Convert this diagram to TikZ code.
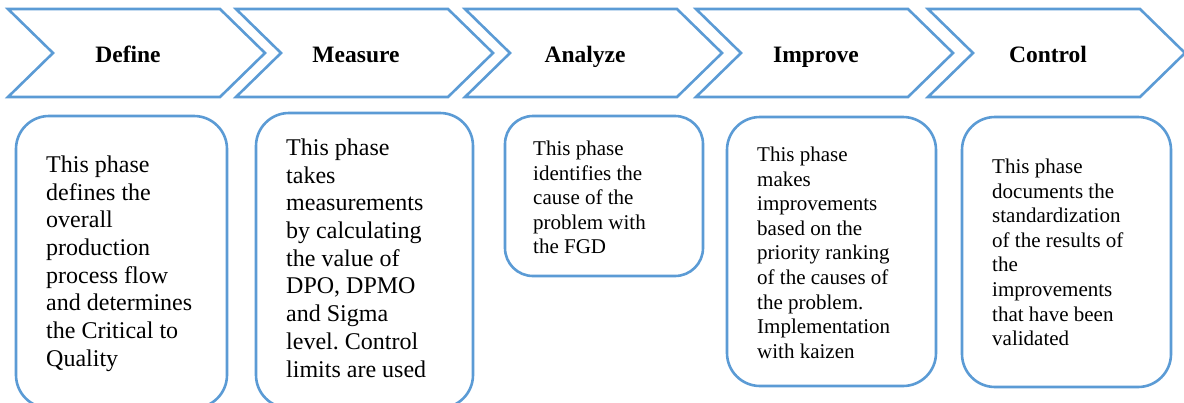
\documentclass[tikz,border=0pt]{standalone}
\usepackage{fontspec}
\setmainfont{Liberation Serif}
\definecolor{lineblue}{RGB}{91,155,213}
\begin{document}
\frenchspacing
\begin{tikzpicture}[x=1pt,y=-1pt,
  chev/.style={draw=lineblue,line width=2.6pt,fill=white,line join=miter},
  rbox/.style={draw=lineblue,line width=2.6pt,rounded corners=33pt},
  phase/.style={font=\bfseries\fontsize{23.5}{27}\selectfont,anchor=base,inner sep=0pt},
  bigtxt/.style={font=\fontsize{24}{27.7}\selectfont\frenchspacing,align=left,anchor=north west,inner sep=0pt},
  smalltxt/.style={font=\fontsize{21}{24.6}\selectfont\frenchspacing,align=left,anchor=north west,inner sep=0pt}]
\useasboundingbox (0,0) rectangle (1184,402);
\clip (0,0) rectangle (1184,402);
\fill[white] (0,0) rectangle (1184,402);
% chevrons
\foreach \x/\nm/\lab in {8/cD/Define,236/cM/Measure,465/cA/Analyze,696/cI/Improve,928/cC/Control}{
  \draw[chev] (\x,9) -- (\x+212,9) -- (\x+257,53) -- (\x+212,97) -- (\x,97) -- (\x+45,53) -- cycle;
  \node[phase] (\nm) at (\x+120,62) {\lab};
}
% boxes
\draw[rbox] (16,116) rectangle (227,408);
\draw[rbox] (256,113) rectangle (473,408);
\draw[rbox,rounded corners=28pt] (505,116) rectangle (703,276);
\draw[rbox] (727,117) rectangle (936,386);
\draw[rbox] (962,117) rectangle (1171,387);
% texts
\node[bigtxt] (tD) at (46,155.6) {This phase\\defines the\\overall\\production\\process flow\\and determines\\the Critical to\\Quality};
\node[bigtxt] (tM) at (286,138.6) {This phase\\takes\\measurements\\by calculating\\the value of\\DPO, DPMO\\and Sigma\\level. Control\\limits are used};
\node[smalltxt] (tA) at (533,140.7) {This phase\\identifies the\\cause of the\\problem with\\the FGD};
\node[smalltxt] (tI) at (757,146.7) {This phase\\makes\\improvements\\based on the\\priority ranking\\of the causes of\\the problem.\\Implementation\\with kaizen};
\node[smalltxt] (tC) at (992,158.7) {This phase\\documents the\\standardization\\of the results of\\the\\improvements\\that have been\\validated};
\end{tikzpicture}
\end{document}
